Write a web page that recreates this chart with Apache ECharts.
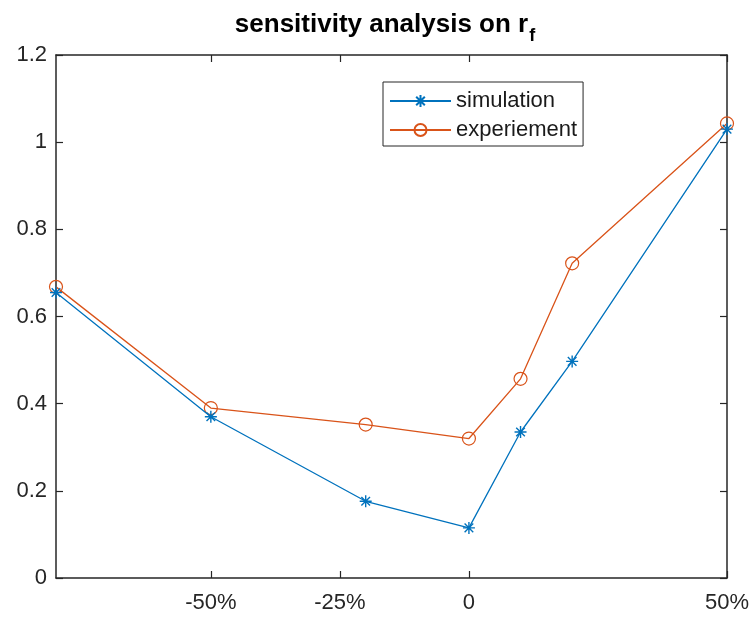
<!DOCTYPE html>
<html>
<head>
<meta charset="utf-8">
<script src="https://cdn.jsdelivr.net/npm/echarts@6/dist/echarts.min.js"></script>
<style>html,body{margin:0;padding:0;background:#fff}#c{width:756px;height:621px}</style>
</head>
<body>
<div id="c"></div>
<script>
var xValues = [-80, -50, -20, 0, 10, 20, 50];
var simulation = [0.655, 0.370, 0.176, 0.115, 0.335, 0.497, 1.030];
var experiement = [0.668, 0.390, 0.352, 0.320, 0.457, 0.722, 1.043];
var xTicks = [-50, -25, 0, 50];
var yTicks = [0, 0.2, 0.4, 0.6, 0.8, 1, 1.2];
var seriesNames = ['simulation', 'experiement'];

var axisColor = '#262626';
var font = 'Liberation Sans, Arial, Helvetica, sans-serif';
var blue = '#0072BD', orange = '#D95319';
var starPath = 'path://M0,-1L0,1M-1,0L1,0M-0.72,-0.72L0.72,0.72M-0.72,0.72L0.72,-0.72';

function pairs(xs, ys) { return xs.map(function (x, i) { return [x, ys[i]]; }); }

var chart = echarts.init(document.getElementById('c'), null, {renderer: 'canvas'});
var xBase = {
  type: 'value', min: -80, max: 50,
  axisLine: {show: true, onZero: false, lineStyle: {color: axisColor, width: 1.5}},
  axisTick: {show: true, inside: true, length: 7, customValues: xTicks, lineStyle: {color: axisColor, width: 1.2}},
  splitLine: {show: false}
};
var yBase = {
  type: 'value', min: 0, max: 1.2, interval: 0.2,
  axisLine: {show: true, onZero: false, lineStyle: {color: axisColor, width: 1.5}},
  axisTick: {show: true, inside: true, length: 7, lineStyle: {color: axisColor, width: 1.2}},
  splitLine: {show: false}
};
chart.setOption({
  animation: false,
  backgroundColor: '#fff',
  title: {
    text: '{a|sensitivity analysis on r}{s|f}',
    left: 380, top: 0, textAlign: 'center',
    textStyle: {
      rich: {
        a: {fontFamily: font, fontSize: 26, fontWeight: 'bold', color: '#000'},
        s: {fontFamily: font, fontSize: 18, fontWeight: 'bold', color: '#000', padding: [22, 0, 0, 1]}
      }
    }
  },
  grid: {left: 56, right: 29, top: 55, bottom: 43, containLabel: false},
  legend: {
    orient: 'vertical', left: 383, top: 82,
    data: seriesNames,
    itemWidth: 61, itemHeight: 15, itemGap: 7,
    padding: [8, 6, 5, 6],
    borderColor: axisColor, borderWidth: 1, backgroundColor: '#fff',
    textStyle: {fontFamily: font, fontSize: 22, color: '#1a1a1a'}
  },
  xAxis: [
    Object.assign({}, xBase, {
      position: 'bottom',
      axisLabel: {show: true, customValues: xTicks, margin: 14, fontFamily: font, fontSize: 22, color: axisColor,
        formatter: function (v) { return v === 0 ? '0' : v + '%'; }}
    }),
    Object.assign({}, xBase, {position: 'top', axisLabel: {show: false}})
  ],
  yAxis: [
    Object.assign({}, yBase, {
      position: 'left',
      axisLabel: {show: true, margin: 9, fontFamily: font, fontSize: 22, color: axisColor}
    }),
    Object.assign({}, yBase, {position: 'right', axisLabel: {show: false}})
  ],
  series: [
    {
      name: seriesNames[0], type: 'line', data: pairs(xValues, simulation),
      symbol: starPath, symbolSize: 12,
      lineStyle: {color: blue, width: 1.3},
      itemStyle: {color: blue, borderColor: blue, borderWidth: 1.4},
      z: 3
    },
    {
      name: seriesNames[1], type: 'line', data: pairs(xValues, experiement),
      symbol: 'circle', symbolSize: 13,
      lineStyle: {color: orange, width: 1.3},
      itemStyle: {color: 'rgba(0,0,0,0)', borderColor: orange, borderWidth: 1.2},
      z: 2
    }
  ]
});
</script>
</body>
</html>
